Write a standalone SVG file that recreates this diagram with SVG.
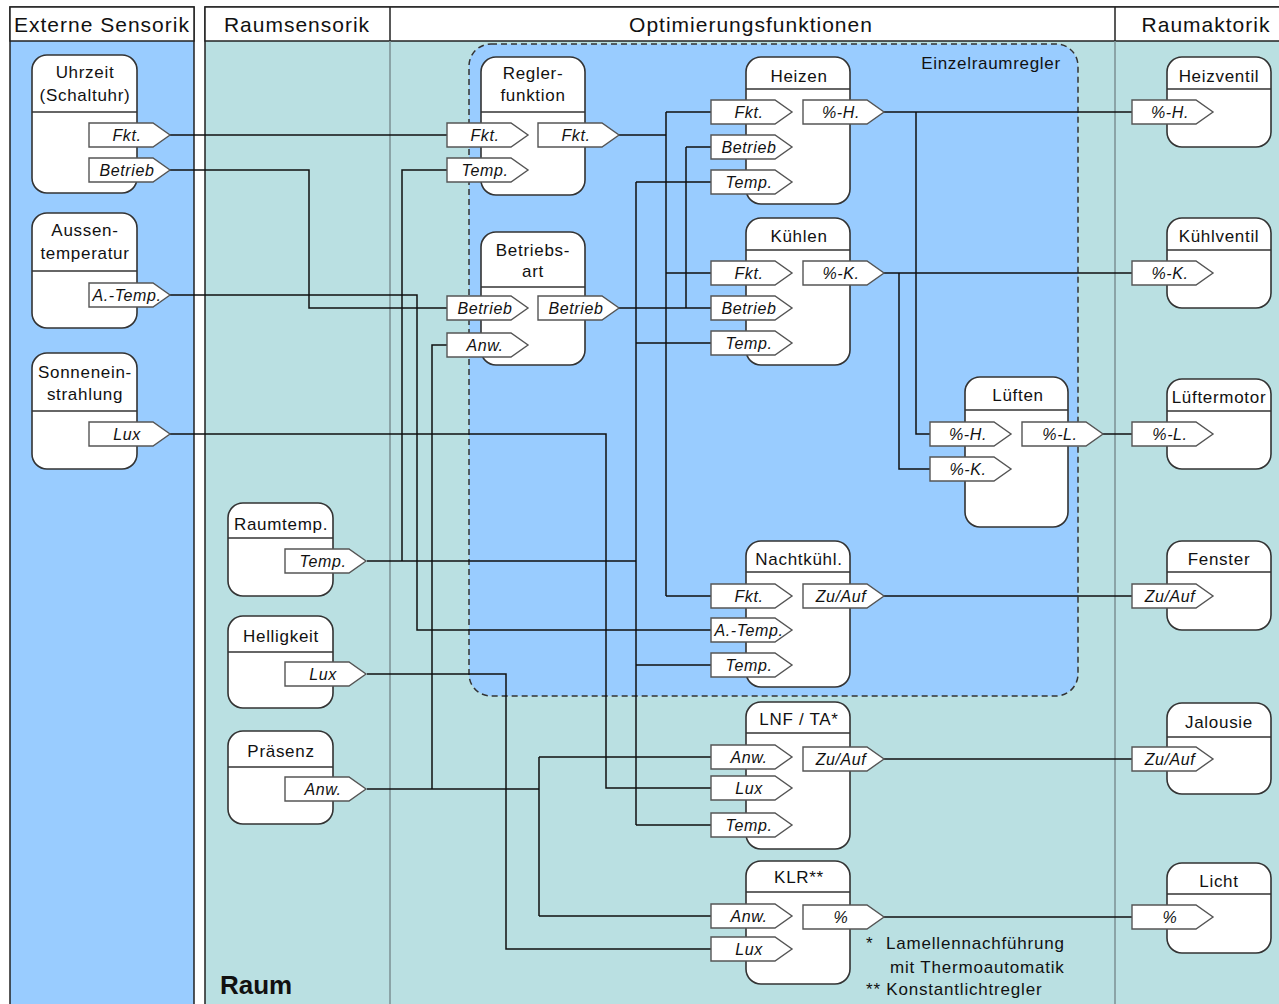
<svg xmlns="http://www.w3.org/2000/svg" xmlns:xlink="http://www.w3.org/1999/xlink" width="1279" height="1004" viewBox="0 0 1279 1004">
  <defs>
    <!-- signal port: label box with pointed tip -->
    <path id="port" d="M0,-12 H64 L81,0 L64,12 H0 Z"/>
    <style>
      text { font-family: "Liberation Sans", Arial, sans-serif; fill: #111; }
      .hd { font-size: 21px; letter-spacing: 1px; text-anchor: middle; }
      .ti { font-size: 17px; letter-spacing: 0.7px; text-anchor: middle; }
      .pl { font-size: 16px; font-style: italic; letter-spacing: 0.6px; text-anchor: middle; }
      .fn { font-size: 17px; letter-spacing: 0.8px; }
      .box { fill: #fff; stroke: #333; stroke-width: 1.6; }
      .sep { stroke: #333; stroke-width: 1.4; }
      .pt { fill: #fff; stroke: #555; stroke-width: 1.4; }
      .wire { fill: none; stroke: #111; stroke-width: 1.5; }
    </style>
  </defs>

  <rect width="1279" height="1004" fill="#fff"/>

  <!-- swimlanes -->
  <g id="lanes">
    <rect x="10" y="7" width="184" height="1010" fill="#99CCFF" stroke="#222" stroke-width="1.5"/>
    <rect x="10" y="7" width="184" height="34" fill="#fff" stroke="#222" stroke-width="1.5"/>
    <rect x="205" y="7" width="1085" height="1010" fill="#BAE0E2" stroke="#222" stroke-width="1.5"/>
    <rect x="205" y="7" width="1085" height="34" fill="#fff" stroke="#222" stroke-width="1.5"/>
    <line x1="390" y1="7" x2="390" y2="41" stroke="#222" stroke-width="1.5"/>
    <line x1="1115" y1="7" x2="1115" y2="41" stroke="#222" stroke-width="1.5"/>
    <line x1="390" y1="41" x2="390" y2="1004" stroke="#7b9193" stroke-width="1.5"/>
    <line x1="1115" y1="41" x2="1115" y2="1004" stroke="#7b9193" stroke-width="1.5"/>
    <text class="hd" x="102" y="32">Externe Sensorik</text>
    <text class="hd" x="297" y="32">Raumsensorik</text>
    <text class="hd" x="751" y="32">Optimierungsfunktionen</text>
    <text class="hd" x="1206" y="32">Raumaktorik</text>
    <text x="220" y="994" font-size="26" font-weight="bold">Raum</text>
  </g>

  <!-- room controller boundary -->
  <g id="einzelraumregler">
    <rect x="469" y="44" width="609" height="652" rx="22" fill="#99CCFF" stroke="#333" stroke-width="1.5" stroke-dasharray="6 4"/>
    <text class="ti" x="991" y="69">Einzelraumregler</text>
  </g>

  <!-- connectors -->
  <g id="connectors" class="wire">
    <path d="M170,135 H447"/>
    <path d="M170,170 H309 V308 H447"/>
    <path d="M170,295 H417 V630 H711"/>
    <path d="M170,434 H606 V788 H711"/>
    <path d="M367,561 H636"/>
    <path d="M447,170 H402 V561"/>
    <path d="M636,182 V825"/>
    <path d="M636,182 H711 M636,343 H711 M636,665 H711 M636,825 H711"/>
    <path d="M367,674 H506 V949 H711"/>
    <path d="M367,789 H539"/>
    <path d="M447,345 H432 V789"/>
    <path d="M539,757 V916 M539,757 H711 M539,916 H711"/>
    <path d="M618,135 H666"/>
    <path d="M666,112 V596 M666,112 H711 M666,273 H711 M666,596 H711"/>
    <path d="M618,308 H711"/>
    <path d="M686,147 V308 M686,147 H711"/>
    <path d="M883,112 H1132"/>
    <path d="M916,112 V434 H930"/>
    <path d="M883,273 H1132"/>
    <path d="M899,273 V469 H930"/>
    <path d="M1103,434 H1132"/>
    <path d="M883,596 H1132"/>
    <path d="M883,759 H1132"/>
    <path d="M883,917 H1132"/>
  </g>

  <!-- external sensors -->
  <g id="uhrzeit">
    <rect class="box" x="32" y="55" width="105" height="138" rx="15"/>
    <line class="sep" x1="32" y1="112" x2="137" y2="112"/>
    <text class="ti" x="85" y="78">Uhrzeit</text>
    <text class="ti" x="85" y="101">(Schaltuhr)</text>
    <use href="#port" class="pt" x="89" y="135"/><text class="pl" x="127" y="140.5">Fkt.</text>
    <use href="#port" class="pt" x="89" y="170"/><text class="pl" x="127" y="175.5">Betrieb</text>
  </g>
  <g id="aussentemperatur">
    <rect class="box" x="32" y="213" width="105" height="115" rx="15"/>
    <line class="sep" x1="32" y1="271" x2="137" y2="271"/>
    <text class="ti" x="85" y="236">Aussen-</text>
    <text class="ti" x="85" y="259">temperatur</text>
    <use href="#port" class="pt" x="89" y="295"/><text class="pl" x="127" y="300.5">A.-Temp.</text>
  </g>
  <g id="sonneneinstrahlung">
    <rect class="box" x="32" y="353" width="105" height="116" rx="15"/>
    <line class="sep" x1="32" y1="411" x2="137" y2="411"/>
    <text class="ti" x="85" y="378">Sonnenein-</text>
    <text class="ti" x="85" y="400">strahlung</text>
    <use href="#port" class="pt" x="89" y="434"/><text class="pl" x="127" y="439.5">Lux</text>
  </g>

  <!-- room sensors -->
  <g id="raumtemp">
    <rect class="box" x="228" y="503" width="105" height="93" rx="15"/>
    <line class="sep" x1="228" y1="538" x2="333" y2="538"/>
    <text class="ti" x="281" y="530">Raumtemp.</text>
    <use href="#port" class="pt" x="285" y="561"/><text class="pl" x="323" y="566.5">Temp.</text>
  </g>
  <g id="helligkeit">
    <rect class="box" x="228" y="616" width="105" height="92" rx="15"/>
    <line class="sep" x1="228" y1="652" x2="333" y2="652"/>
    <text class="ti" x="281" y="642">Helligkeit</text>
    <use href="#port" class="pt" x="285" y="674"/><text class="pl" x="323" y="679.5">Lux</text>
  </g>
  <g id="praesenz">
    <rect class="box" x="228" y="731" width="105" height="93" rx="15"/>
    <line class="sep" x1="228" y1="767" x2="333" y2="767"/>
    <text class="ti" x="281" y="757">Präsenz</text>
    <use href="#port" class="pt" x="285" y="789"/><text class="pl" x="323" y="794.5">Anw.</text>
  </g>

  <!-- optimisation functions -->
  <g id="reglerfunktion">
    <rect class="box" x="481" y="57" width="104" height="138" rx="15"/>
    <line class="sep" x1="481" y1="112" x2="585" y2="112"/>
    <text class="ti" x="533" y="79">Regler-</text>
    <text class="ti" x="533" y="101">funktion</text>
    <use href="#port" class="pt" x="447" y="135"/><text class="pl" x="485" y="140.5">Fkt.</text>
    <use href="#port" class="pt" x="447" y="170"/><text class="pl" x="485" y="175.5">Temp.</text>
    <use href="#port" class="pt" x="538" y="135"/><text class="pl" x="576" y="140.5">Fkt.</text>
  </g>
  <g id="betriebsart">
    <rect class="box" x="481" y="232" width="104" height="133" rx="15"/>
    <line class="sep" x1="481" y1="287" x2="585" y2="287"/>
    <text class="ti" x="533" y="256">Betriebs-</text>
    <text class="ti" x="533" y="277">art</text>
    <use href="#port" class="pt" x="447" y="308"/><text class="pl" x="485" y="313.5">Betrieb</text>
    <use href="#port" class="pt" x="447" y="345"/><text class="pl" x="485" y="350.5">Anw.</text>
    <use href="#port" class="pt" x="538" y="308"/><text class="pl" x="576" y="313.5">Betrieb</text>
  </g>
  <g id="heizen">
    <rect class="box" x="746" y="57" width="104" height="147" rx="15"/>
    <line class="sep" x1="746" y1="89" x2="850" y2="89"/>
    <text class="ti" x="799" y="82">Heizen</text>
    <use href="#port" class="pt" x="711" y="112"/><text class="pl" x="749" y="117.5">Fkt.</text>
    <use href="#port" class="pt" x="711" y="147"/><text class="pl" x="749" y="152.5">Betrieb</text>
    <use href="#port" class="pt" x="711" y="182"/><text class="pl" x="749" y="187.5">Temp.</text>
    <use href="#port" class="pt" x="803" y="112"/><text class="pl" x="841" y="117.5">%-H.</text>
  </g>
  <g id="kuehlen">
    <rect class="box" x="746" y="218" width="104" height="147" rx="15"/>
    <line class="sep" x1="746" y1="250" x2="850" y2="250"/>
    <text class="ti" x="799" y="242">Kühlen</text>
    <use href="#port" class="pt" x="711" y="273"/><text class="pl" x="749" y="278.5">Fkt.</text>
    <use href="#port" class="pt" x="711" y="308"/><text class="pl" x="749" y="313.5">Betrieb</text>
    <use href="#port" class="pt" x="711" y="343"/><text class="pl" x="749" y="348.5">Temp.</text>
    <use href="#port" class="pt" x="803" y="273"/><text class="pl" x="841" y="278.5">%-K.</text>
  </g>
  <g id="lueften">
    <rect class="box" x="965" y="377" width="103" height="150" rx="15"/>
    <line class="sep" x1="965" y1="410" x2="1068" y2="410"/>
    <text class="ti" x="1018" y="401">Lüften</text>
    <use href="#port" class="pt" x="930" y="434"/><text class="pl" x="968" y="439.5">%-H.</text>
    <use href="#port" class="pt" x="930" y="469"/><text class="pl" x="968" y="474.5">%-K.</text>
    <use href="#port" class="pt" x="1022" y="434"/><text class="pl" x="1060" y="439.5">%-L.</text>
  </g>
  <g id="nachtkuehlung">
    <rect class="box" x="746" y="541" width="104" height="146" rx="15"/>
    <line class="sep" x1="746" y1="572" x2="850" y2="572"/>
    <text class="ti" x="799" y="565">Nachtkühl.</text>
    <use href="#port" class="pt" x="711" y="596"/><text class="pl" x="749" y="601.5">Fkt.</text>
    <use href="#port" class="pt" x="711" y="630"/><text class="pl" x="749" y="635.5">A.-Temp.</text>
    <use href="#port" class="pt" x="711" y="665"/><text class="pl" x="749" y="670.5">Temp.</text>
    <use href="#port" class="pt" x="803" y="596"/><text class="pl" x="841" y="601.5">Zu/Auf</text>
  </g>
  <g id="lnf-ta">
    <rect class="box" x="746" y="702" width="104" height="147" rx="15"/>
    <line class="sep" x1="746" y1="733" x2="850" y2="733"/>
    <text class="ti" x="799" y="725">LNF / TA*</text>
    <use href="#port" class="pt" x="711" y="757"/><text class="pl" x="749" y="762.5">Anw.</text>
    <use href="#port" class="pt" x="711" y="788"/><text class="pl" x="749" y="793.5">Lux</text>
    <use href="#port" class="pt" x="711" y="825"/><text class="pl" x="749" y="830.5">Temp.</text>
    <use href="#port" class="pt" x="803" y="759"/><text class="pl" x="841" y="764.5">Zu/Auf</text>
  </g>
  <g id="klr">
    <rect class="box" x="746" y="861" width="104" height="123" rx="15"/>
    <line class="sep" x1="746" y1="892" x2="850" y2="892"/>
    <text class="ti" x="799" y="883">KLR**</text>
    <use href="#port" class="pt" x="711" y="916"/><text class="pl" x="749" y="921.5">Anw.</text>
    <use href="#port" class="pt" x="711" y="949"/><text class="pl" x="749" y="954.5">Lux</text>
    <use href="#port" class="pt" x="803" y="917"/><text class="pl" x="841" y="922.5">%</text>
  </g>

  <!-- room actuators -->
  <g id="heizventil">
    <rect class="box" x="1167" y="57" width="104" height="90" rx="15"/>
    <line class="sep" x1="1167" y1="89" x2="1271" y2="89"/>
    <text class="ti" x="1219" y="82">Heizventil</text>
    <use href="#port" class="pt" x="1132" y="112"/><text class="pl" x="1170" y="117.5">%-H.</text>
  </g>
  <g id="kuehlventil">
    <rect class="box" x="1167" y="218" width="104" height="90" rx="15"/>
    <line class="sep" x1="1167" y1="250" x2="1271" y2="250"/>
    <text class="ti" x="1219" y="242">Kühlventil</text>
    <use href="#port" class="pt" x="1132" y="273"/><text class="pl" x="1170" y="278.5">%-K.</text>
  </g>
  <g id="lueftermotor">
    <rect class="box" x="1167" y="379" width="104" height="90" rx="15"/>
    <line class="sep" x1="1167" y1="411" x2="1271" y2="411"/>
    <text class="ti" x="1219" y="403">Lüftermotor</text>
    <use href="#port" class="pt" x="1132" y="434"/><text class="pl" x="1170" y="439.5">%-L.</text>
  </g>
  <g id="fenster">
    <rect class="box" x="1167" y="541" width="104" height="89" rx="15"/>
    <line class="sep" x1="1167" y1="572" x2="1271" y2="572"/>
    <text class="ti" x="1219" y="565">Fenster</text>
    <use href="#port" class="pt" x="1132" y="596"/><text class="pl" x="1170" y="601.5">Zu/Auf</text>
  </g>
  <g id="jalousie">
    <rect class="box" x="1167" y="703" width="104" height="91" rx="15"/>
    <line class="sep" x1="1167" y1="737" x2="1271" y2="737"/>
    <text class="ti" x="1219" y="728">Jalousie</text>
    <use href="#port" class="pt" x="1132" y="759"/><text class="pl" x="1170" y="764.5">Zu/Auf</text>
  </g>
  <g id="licht">
    <rect class="box" x="1167" y="863" width="104" height="90" rx="15"/>
    <line class="sep" x1="1167" y1="894" x2="1271" y2="894"/>
    <text class="ti" x="1219" y="887">Licht</text>
    <use href="#port" class="pt" x="1132" y="917"/><text class="pl" x="1170" y="922.5">%</text>
  </g>

  <!-- footnotes -->
  <g id="legend">
    <text class="fn" x="866" y="949">*</text>
    <text class="fn" x="886" y="949">Lamellennachführung</text>
    <text class="fn" x="890" y="973">mit Thermoautomatik</text>
    <text class="fn" x="866" y="995">** Konstantlichtregler</text>
  </g>
</svg>
